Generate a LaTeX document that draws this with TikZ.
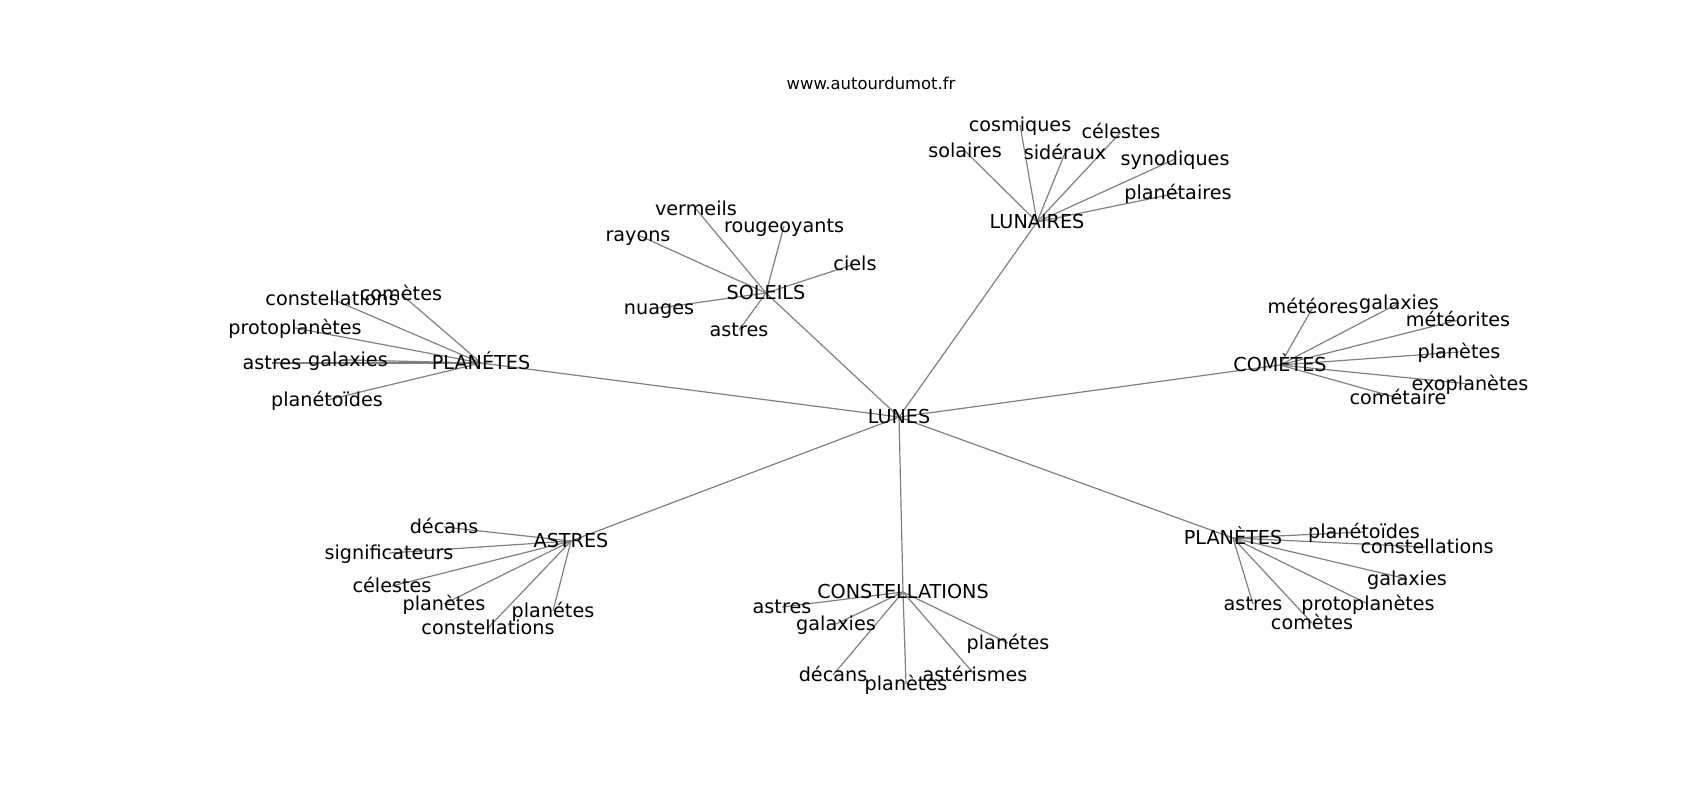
\documentclass[tikz,border=0pt]{standalone}
\usepackage{fontspec}
\setmainfont{DejaVu Sans}
\usetikzlibrary{backgrounds}
\tikzset{
    word/.style={
        font=\fontsize{9.6}{11}\selectfont,
        inner sep=0pt,
        text height=0.6em,
        text depth=0pt,
        yshift=-0.5pt},
    title/.style={
        font=\fontsize{8.2}{10}\selectfont,
        inner sep=0pt},
    every edge/.style={
        draw,
        color=gray,
        line width=0.6pt}}

\begin{document}
\begin{tikzpicture}[x=0.5pt,y=-0.5pt]
        \useasboundingbox (0,0) rectangle (1700,800);
        \node[title] (site) at (871,83) {www.autourdumot.fr};

        \node[word] (lunes) at (899,416) {LUNES};

        % hubs
        \node[word] (plaL) at (481,362) {PLANÉTES};
        \node[word] (sol) at (766,292) {SOLEILS};
        \node[word] (lun) at (1037,221) {LUNAIRES};
        \node[word] (com) at (1280,364) {COMÈTES};
        \node[word] (ast) at (571,540) {ASTRES};
        \node[word] (con) at (903,591) {CONSTELLATIONS};
        \node[word] (plaR) at (1233,537) {PLANÈTES};

        % PLANÉTES
        \node[word] (plaL1) at (332,298) {constellations};
        \node[word] (plaL2) at (401,293) {comètes};
        \node[word] (plaL3) at (295,327) {protoplanètes};
        \node[word] (plaL4) at (272,362) {astres};
        \node[word] (plaL5) at (348,359) {galaxies};
        \node[word] (plaL6) at (327,399) {planétoïdes};

        % SOLEILS
        \node[word] (sol1) at (696,208) {vermeils};
        \node[word] (sol2) at (784,225) {rougeoyants};
        \node[word] (sol3) at (638,234) {rayons};
        \node[word] (sol4) at (855,263) {ciels};
        \node[word] (sol5) at (659,307) {nuages};
        \node[word] (sol6) at (739,329) {astres};

        % LUNAIRES
        \node[word] (lun1) at (1020,124) {cosmiques};
        \node[word] (lun2) at (1121,131) {célestes};
        \node[word] (lun3) at (965,150) {solaires};
        \node[word] (lun4) at (1065,152) {sidéraux};
        \node[word] (lun5) at (1175,158) {synodiques};
        \node[word] (lun6) at (1178,192) {planétaires};

        % COMÈTES
        \node[word] (com1) at (1313,306) {météores};
        \node[word] (com2) at (1399,302) {galaxies};
        \node[word] (com3) at (1458,319) {météorites};
        \node[word] (com4) at (1459,351) {planètes};
        \node[word] (com5) at (1470,383) {exoplanètes};
        \node[word] (com6) at (1398,397) {cométaire};

        % ASTRES
        \node[word] (ast1) at (444,526) {décans};
        \node[word] (ast2) at (389,552) {significateurs};
        \node[word] (ast3) at (392,585) {célestes};
        \node[word] (ast4) at (444,603) {planètes};
        \node[word] (ast5) at (553,610) {planétes};
        \node[word] (ast6) at (488,627) {constellations};

        % CONSTELLATIONS
        \node[word] (con1) at (782,606) {astres};
        \node[word] (con2) at (836,623) {galaxies};
        \node[word] (con3) at (833,674) {décans};
        \node[word] (con4) at (906,683) {planètes};
        \node[word] (con5) at (975,674) {astérismes};
        \node[word] (con6) at (1008,642) {planétes};

        % PLANÈTES
        \node[word] (plaR1) at (1364,531) {planétoïdes};
        \node[word] (plaR2) at (1427,546) {constellations};
        \node[word] (plaR3) at (1407,578) {galaxies};
        \node[word] (plaR4) at (1253,603) {astres};
        \node[word] (plaR5) at (1368,603) {protoplanètes};
        \node[word] (plaR6) at (1312,622) {comètes};

        \begin{scope}[on background layer]
        \draw (lunes.center) edge (plaL.center) edge (sol.center)
            edge (lun.center) edge (com.center) edge (ast.center)
            edge (con.center) edge (plaR.center);
        \foreach \h in {plaL,sol,lun,com,ast,con,plaR}
            \foreach \i in {1,...,6}
                \draw (\h.center) edge (\h\i.center);
        \end{scope}
    \end{tikzpicture}
\end{document}
